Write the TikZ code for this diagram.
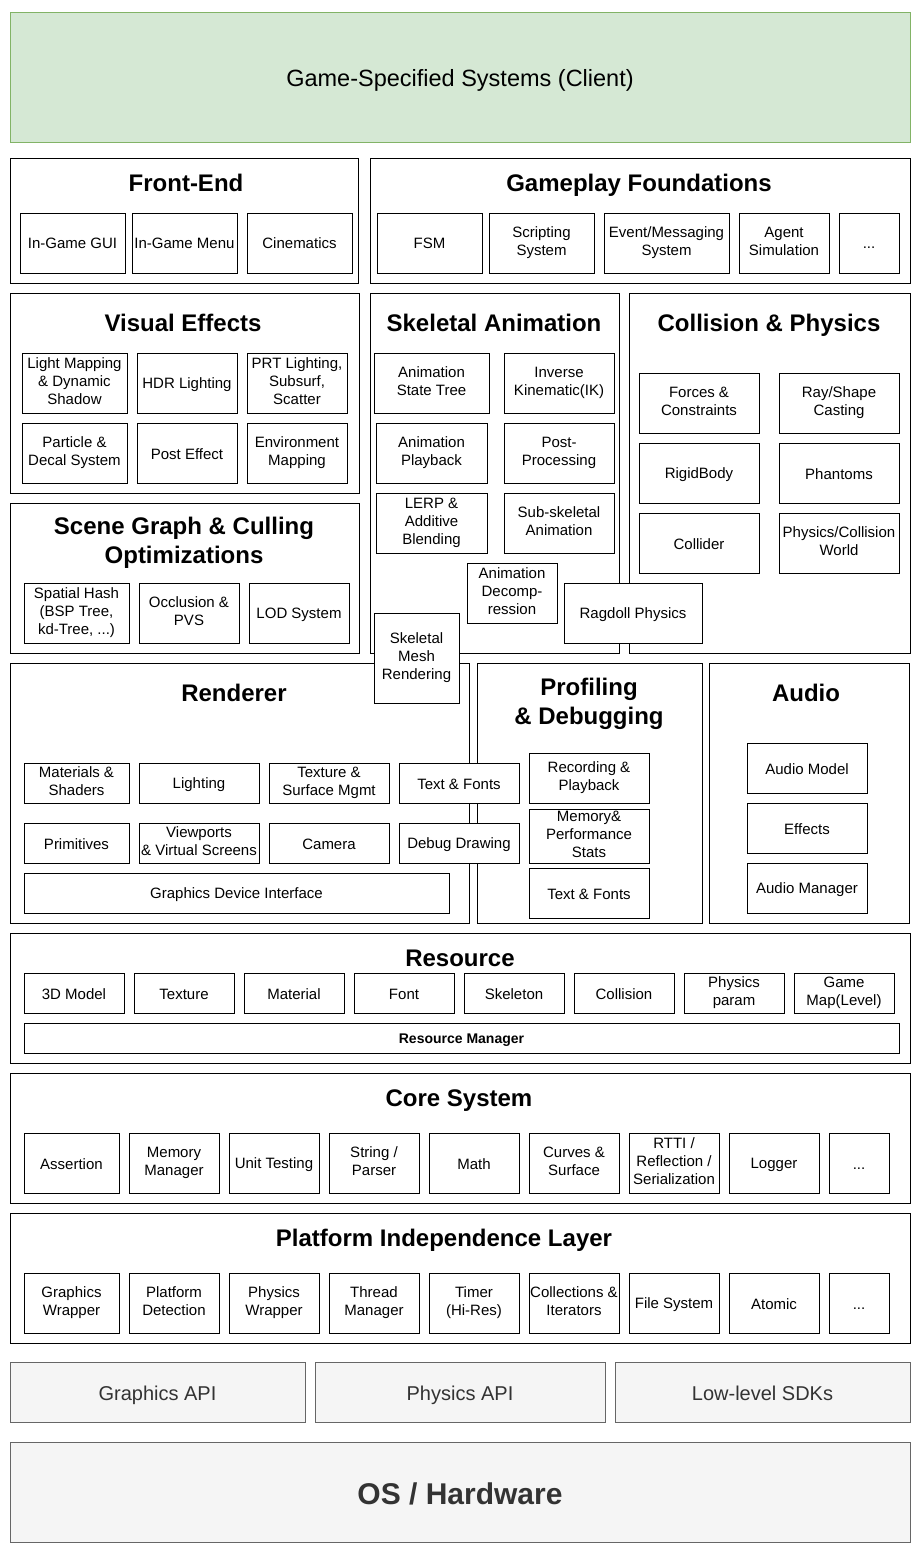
\documentclass[tikz,border=0pt]{standalone}
\usepackage{fontspec}
\setmainfont{Liberation Sans}
\usetikzlibrary{positioning}
\definecolor{clientfill}{HTML}{D5E8D4}
\definecolor{clientline}{HTML}{82B366}
\definecolor{apifill}{HTML}{F5F5F5}
\definecolor{apiline}{HTML}{666666}
\definecolor{apitext}{HTML}{333333}
\newcommand\lineprop{\rule[-0.2em]{0pt}{1.2em}}
\tikzset{
x=1pt,
y=-1pt,
line width=1pt,
every node/.style={inner sep=0pt, outer sep=0pt, execute at begin node=\lineprop, execute at end node=\lineprop},
layer/.style={draw, fill=white},
part/.style={draw, fill=white, align=center, font=\fontsize{15}{18}\selectfont},
head/.style={align=center, font=\bfseries\fontsize{24}{29}\selectfont},
api/.style={draw=apiline, fill=apifill, text=apitext, font=\fontsize{20}{24}\selectfont},
}

\begin{document}
\begin{tikzpicture}
    \useasboundingbox (0,0) rectangle (922,1554);

    % client
    \node[draw=clientline, fill=clientfill, minimum width=900, minimum height=130, font=\fontsize{23.5}{28}\selectfont] (client) at (460,77) {Game-Specified Systems (Client)};

    % front-end
    \node[layer, minimum width=348, minimum height=125] (fe) at (184,220.5) {};
    \node[head] (feT) at (186,182) {Front-End};
    \node[part, minimum width=105, minimum height=60] (feGui) at (72.5,243) {In-Game GUI};
    \node[part, minimum width=105, minimum height=60] (feMenu) at (184.5,243) {In-Game Menu};
    \node[part, minimum width=105, minimum height=60] (feCine) at (299.5,243) {Cinematics};

    % gameplay foundations
    \node[layer, minimum width=540, minimum height=125] (gp) at (640,220.5) {};
    \node[head] (gpT) at (639,182) {Gameplay Foundations};
    \node[part, minimum width=105, minimum height=60] (gpFsm) at (429.5,243) {FSM};
    \node[part, minimum width=105, minimum height=60] (gpScript) at (541.5,243) {Scripting\\System};
    \node[part, minimum width=125, minimum height=60] (gpEvent) at (666.5,243) {Event/Messaging\\System};
    \node[part, minimum width=90, minimum height=60] (gpAgent) at (784,243) {Agent\\Simulation};
    \node[part, minimum width=60, minimum height=60] (gpMore) at (869,243) {...};

    % visual effects
    \node[layer, minimum width=349, minimum height=200] (vfx) at (184.5,393) {};
    \node[head] (vfxT) at (183,321.5) {Visual Effects};
    \node[part, minimum width=105, minimum height=60] (vfxLight) at (74.5,383) {Light Mapping\\\& Dynamic\\Shadow};
    \node[part, minimum width=100, minimum height=60] (vfxHdr) at (187,383) {HDR Lighting};
    \node[part, minimum width=100, minimum height=60] (vfxPrt) at (297,383) {PRT Lighting,\\Subsurf,\\Scatter};
    \node[part, minimum width=105, minimum height=60] (vfxPart) at (74.5,453) {Particle \&\\Decal System};
    \node[part, minimum width=100, minimum height=60] (vfxPost) at (187,453) {Post Effect};
    \node[part, minimum width=100, minimum height=60] (vfxEnv) at (297,453) {Environment\\Mapping};

    % scene graph
    \node[layer, minimum width=349, minimum height=150] (sg) at (184.5,578) {};
    \node[head] (sgT) at (184,542.5) {Scene Graph \& Culling\\Optimizations};
    \node[part, minimum width=105, minimum height=60] (sgHash) at (76.5,613) {Spatial Hash\\(BSP Tree,\\kd-Tree, ...)};
    \node[part, minimum width=100, minimum height=60] (sgOcc) at (189,613) {Occlusion \&\\PVS};
    \node[part, minimum width=100, minimum height=60] (sgLod) at (299,613) {LOD System};

    % skeletal animation
    \node[layer, minimum width=249, minimum height=360] (skel) at (494.5,473) {};
    \node[head] (skelT) at (494,321.5) {Skeletal Animation};
    \node[part, minimum width=115, minimum height=60] (skelTree) at (431.5,383) {Animation\\State Tree};
    \node[part, minimum width=110, minimum height=60] (skelIk) at (559,383) {Inverse\\Kinematic(IK)};
    \node[part, minimum width=111, minimum height=60] (skelPlay) at (431.5,453) {Animation\\Playback};
    \node[part, minimum width=110, minimum height=60] (skelPost) at (559,453) {Post-\\Processing};
    \node[part, minimum width=111, minimum height=60] (skelLerp) at (431.5,523) {LERP \&\\Additive\\Blending};
    \node[part, minimum width=110, minimum height=60] (skelSub) at (559,523) {Sub-skeletal\\Animation};
    \node[part, minimum width=90, minimum height=60] (skelDec) at (512,593) {Animation\\Decomp-\\ression};

    % collision & physics
    \node[layer, minimum width=281, minimum height=360] (phys) at (769.5,473) {};
    \node[head] (physT) at (769,321.5) {Collision \& Physics};
    \node[part, minimum width=120, minimum height=60] (physForce) at (699,403) {Forces \&\\Constraints};
    \node[part, minimum width=120, minimum height=60] (physRay) at (839,403) {Ray/Shape\\Casting};
    \node[part, minimum width=120, minimum height=60] (physRigid) at (699,473) {RigidBody};
    \node[part, minimum width=120, minimum height=60] (physPhan) at (839,473) {Phantoms};
    \node[part, minimum width=120, minimum height=60] (physColl) at (699,543) {Collider};
    \node[part, minimum width=120, minimum height=60] (physWorld) at (839,543) {Physics/Collision\\World};
    \node[part, minimum width=138, minimum height=60] (ragdoll) at (633,613) {Ragdoll Physics};

    % profiling & debugging
    \node[layer, minimum width=225, minimum height=260] (prof) at (589.5,793) {};
    \node[head] (profT) at (589,703.5) {Profiling\\\& Debugging};
    \node[part, minimum width=120, minimum height=50] (profRec) at (589,778) {Recording \&\\Playback};
    \node[part, minimum width=120, minimum height=54] (profMem) at (589,836) {Memory\&\\Performance\\Stats};
    \node[part, minimum width=120, minimum height=50] (profText) at (589,893) {Text \& Fonts};

    % renderer
    \node[layer, minimum width=459, minimum height=260] (rend) at (239.5,793) {};
    \node[head] (rendT) at (234,691.5) {Renderer};
    \node[part, minimum width=105, minimum height=40] (rendMat) at (76.5,783) {Materials \&\\Shaders};
    \node[part, minimum width=120, minimum height=40] (rendLight) at (199,783) {Lighting};
    \node[part, minimum width=120, minimum height=40] (rendTex) at (329,783) {Texture \&\\Surface Mgmt};
    \node[part, minimum width=120, minimum height=40] (rendText) at (459,783) {Text \& Fonts};
    \node[part, minimum width=105, minimum height=40] (rendPrim) at (76.5,843) {Primitives};
    \node[part, minimum width=120, minimum height=40] (rendView) at (199,843) {Viewports\\\& Virtual Screens};
    \node[part, minimum width=120, minimum height=40] (rendCam) at (329,843) {Camera};
    \node[part, minimum width=120, minimum height=40] (rendDebug) at (459,843) {Debug Drawing};
    \node[part, minimum width=425, minimum height=40] (rendGdi) at (236.5,893) {Graphics Device Interface};
    \node[part, minimum width=85, minimum height=90] (skelMesh) at (416.5,658) {Skeletal\\Mesh\\Rendering};

    % audio
    \node[layer, minimum width=200, minimum height=260] (audio) at (809,793) {};
    \node[head] (audioT) at (806,691.5) {Audio};
    \node[part, minimum width=120, minimum height=50] (audioModel) at (807,768) {Audio Model};
    \node[part, minimum width=120, minimum height=50] (audioFx) at (807,828) {Effects};
    \node[part, minimum width=120, minimum height=50] (audioMgr) at (807,888) {Audio Manager};

    % resource
    \node[layer, minimum width=900, minimum height=130] (res) at (460,998) {};
    \node[head] (resT) at (460,957) {Resource};
    \node[part, minimum width=100, minimum height=40] (resModel) at (74,993) {3D Model};
    \node[part, minimum width=100, minimum height=40] (resTex) at (184,993) {Texture};
    \node[part, minimum width=100, minimum height=40] (resMat) at (294,993) {Material};
    \node[part, minimum width=100, minimum height=40] (resFont) at (404,993) {Font};
    \node[part, minimum width=100, minimum height=40] (resSkel) at (514,993) {Skeleton};
    \node[part, minimum width=100, minimum height=40] (resColl) at (624,993) {Collision};
    \node[part, minimum width=100, minimum height=40] (resPhys) at (734,993) {Physics\\param};
    \node[part, minimum width=100, minimum height=40] (resMap) at (844,993) {Game\\Map(Level)};
    \node[part, minimum width=875, minimum height=30, font=\bfseries\fontsize{14}{17}\selectfont] (resMgr) at (461.5,1038) {Resource Manager};

    % core system
    \node[layer, minimum width=900, minimum height=130] (core) at (460,1138) {};
    \node[head] (coreT) at (459,1097) {Core System};
    \node[part, minimum width=95, minimum height=60] (coreAssert) at (71.5,1163) {Assertion};
    \node[part, minimum width=90, minimum height=60] (coreMem) at (174,1163) {Memory\\Manager};
    \node[part, minimum width=90, minimum height=60] (coreUnit) at (274,1163) {Unit Testing};
    \node[part, minimum width=90, minimum height=60] (coreStr) at (374,1163) {String /\\Parser};
    \node[part, minimum width=90, minimum height=60] (coreMath) at (474,1163) {Math};
    \node[part, minimum width=90, minimum height=60] (coreCurve) at (574,1163) {Curves \&\\Surface};
    \node[part, minimum width=90, minimum height=60] (coreRtti) at (674,1163) {RTTI /\\Reflection /\\Serialization};
    \node[part, minimum width=90, minimum height=60] (coreLog) at (774,1163) {Logger};
    \node[part, minimum width=60, minimum height=60] (coreMore) at (859,1163) {...};

    % platform independence layer
    \node[layer, minimum width=900, minimum height=130] (pil) at (460,1278) {};
    \node[head] (pilT) at (444,1237) {Platform Independence Layer};
    \node[part, minimum width=95, minimum height=60] (pilGfx) at (71.5,1303) {Graphics\\Wrapper};
    \node[part, minimum width=90, minimum height=60] (pilDetect) at (174,1303) {Platform\\Detection};
    \node[part, minimum width=90, minimum height=60] (pilPhys) at (274,1303) {Physics\\Wrapper};
    \node[part, minimum width=90, minimum height=60] (pilThread) at (374,1303) {Thread\\Manager};
    \node[part, minimum width=90, minimum height=60] (pilTimer) at (474,1303) {Timer\\(Hi-Res)};
    \node[part, minimum width=90, minimum height=60] (pilColl) at (574,1303) {Collections \&\\Iterators};
    \node[part, minimum width=90, minimum height=60] (pilFile) at (674,1303) {File System};
    \node[part, minimum width=90, minimum height=60] (pilAtomic) at (774,1303) {Atomic};
    \node[part, minimum width=60, minimum height=60] (pilMore) at (859,1303) {...};

    % apis and hardware
    \node[api, minimum width=295, minimum height=60] (gfxApi) at (157.5,1392.5) {Graphics API};
    \node[api, minimum width=290, minimum height=60] (physApi) at (460,1392.5) {Physics API};
    \node[api, minimum width=295, minimum height=60] (sdk) at (762.5,1392.5) {Low-level SDKs};
    \node[api, minimum width=900, minimum height=100, font=\bfseries\fontsize{30}{36}\selectfont] (os) at (460,1492) {OS / Hardware};
\end{tikzpicture}
\end{document}
